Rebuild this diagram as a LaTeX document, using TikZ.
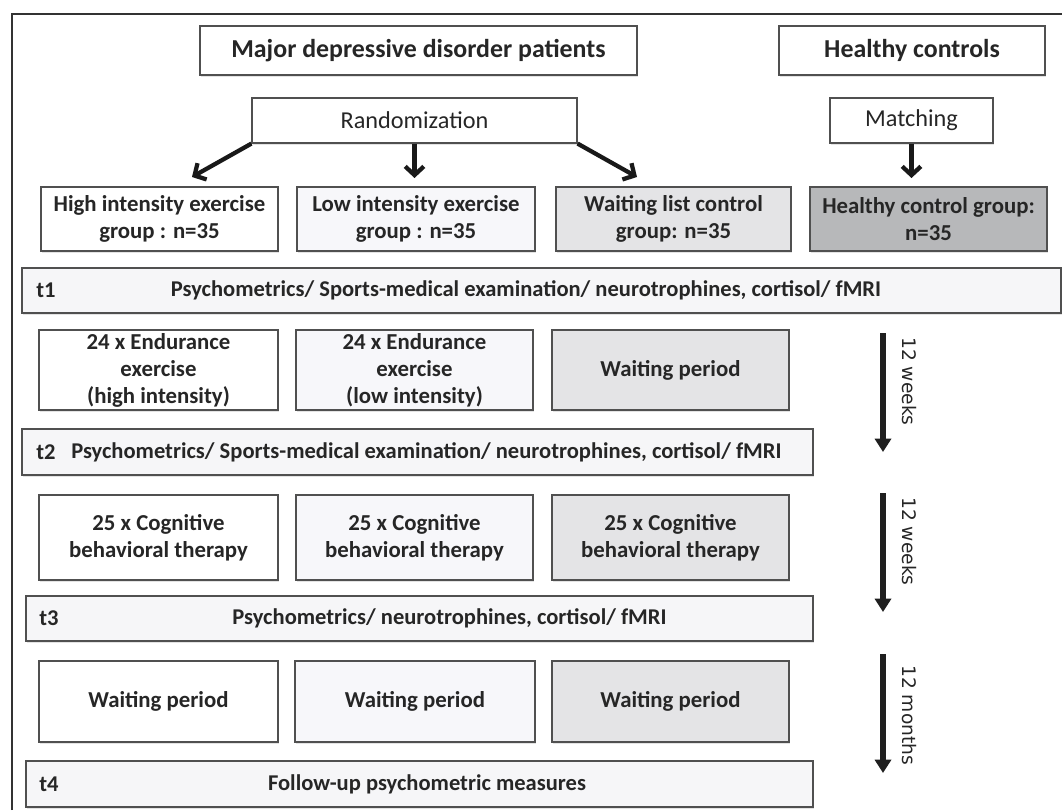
\documentclass[tikz,border=0pt]{standalone}
\usepackage{fontspec}
\setmainfont{Carlito}
\newfontfamily\labfont{DejaVu Sans}
\usetikzlibrary{arrows.meta,shadows}
\definecolor{bordc}{HTML}{505050}
\definecolor{txtc}{HTML}{262626}
\definecolor{fillB}{HTML}{F7F7FA}
\definecolor{fillC}{HTML}{E4E4E6}
\definecolor{fillD}{HTML}{B7B8BA}
\definecolor{barfill}{HTML}{F6F6F8}
\begin{document}
\begin{tikzpicture}[x=0.75pt,y=-0.75pt,
  bw/.style={minimum width=#1*0.75pt},
  bh/.style={minimum height=#1*0.75pt},
  box/.style={draw=bordc, line width=0.9pt, align=center, text=txtc, inner sep=0pt,
    drop shadow={shadow xshift=0.8pt, shadow yshift=-1.8pt, opacity=0.22}},
  titlefont/.style={font=\fontsize{19.4}{23}\selectfont\bfseries},
  regfont/.style={font=\fontsize{18.2}{22}\selectfont},
  boldfont/.style={font=\fontsize{17.1}{20.25}\selectfont\bfseries},
  bartxt/.style={font=\fontsize{16.9}{20.25}\selectfont\bfseries, text=txtc, inner sep=0pt},
  durlab/.style={font=\labfont\fontsize{14}{16}\selectfont, text=txtc, rotate=-90, inner sep=0pt},
  toparrow/.style={line width=3.2pt, color=black!90, -{Straight Barb[length=6.5pt,width=14pt]}},
  timearrow/.style={line width=5pt, color=black!88, -{Triangle[length=10pt,width=12pt]}},
  frame/.style={line width=0.9pt, color=black!80}
]
\useasboundingbox (0,0) rectangle (1062,810);
\fill[white] (0,0) rectangle (1062,810);
\draw[frame] (12,810) -- (12,14) -- (1062,14);

% top boxes
\node[box, fill=white, bw=437, bh=49, titlefont] (mdd) at (418.5,50.5) {Major depressive disorder patients};
\node[box, fill=white, bw=266, bh=49, titlefont] (hcon) at (912,50.5) {Healthy controls};
\node[box, fill=white, bw=325, bh=45, regfont] (rand) at (414.5,120.5) {Randomization};
\node[box, fill=white, bw=163, bh=45, regfont] (match) at (911.5,120.5) {Matching};

% group boxes
\node[box, fill=white, bw=237, bh=64, boldfont] (g1) at (159.5,219) {High intensity exercise\\group : n=35};
\node[box, fill=fillB, bw=238, bh=64, boldfont] (g2) at (416,219) {Low intensity exercise\\group : n=35};
\node[box, fill=fillC, bw=235, bh=64, boldfont] (g3) at (673.5,219) {Waiting list control\\group: n=35};
\node[box, fill=fillD, bw=237, bh=64, boldfont] (g4) at (928.5,219) {Healthy control group:\\n=35};

% arrows from randomization / matching
\coordinate (r1) at (192,177);
\coordinate (r2) at (414.5,178);
\coordinate (r3) at (637,177);
\coordinate (m1) at (911.5,178);
\draw[toparrow] (rand.south west) -- (r1);
\draw[toparrow] (rand.south) -- (r2);
\draw[toparrow] (rand.south east) -- (r3);
\draw[toparrow] (match.south) -- (m1);

% t1
\node[box, fill=barfill, bw=1039, bh=45] (t1bar) at (541.5,290.5) {};
\node[bartxt, anchor=west] (t1lab) at (36,290.5) {t1};
\node[bartxt] (t1txt) at (526,290.5) {Psychometrics/ Sports-medical examination/ neurotrophines, cortisol/ fMRI};

% row 2
\node[box, fill=white, bw=239, bh=80, boldfont] (e1) at (158.5,370) {24 x Endurance\\exercise\\(high intensity)};
\node[box, fill=fillB, bw=237, bh=80, boldfont] (e2) at (414.5,370) {24 x Endurance\\exercise\\(low intensity)};
\node[box, fill=fillC, bw=237, bh=80, boldfont] (e3) at (670.5,370) {Waiting period};

% t2
\node[box, fill=barfill, bw=791, bh=46] (t2bar) at (417.5,452) {};
\node[bartxt, anchor=west] (t2lab) at (36,452) {t2};
\node[bartxt, anchor=west] (t2txt) at (71,452) {Psychometrics/ Sports-medical examination/ neurotrophines, cortisol/ fMRI};

% row 3
\node[box, fill=white, bw=239, bh=85, boldfont] (c1) at (158.5,537.5) {25 x Cognitive\\behavioral therapy};
\node[box, fill=fillB, bw=237, bh=85, boldfont] (c2) at (414.5,537.5) {25 x Cognitive\\behavioral therapy};
\node[box, fill=fillC, bw=237, bh=85, boldfont] (c3) at (670.5,537.5) {25 x Cognitive\\behavioral therapy};

% t3
\node[box, fill=barfill, bw=787, bh=45] (t3bar) at (419.5,618.5) {};
\node[bartxt, anchor=west] (t3lab) at (39,618.5) {t3};
\node[bartxt] (t3txt) at (449.5,618.5) {Psychometrics/ neurotrophines, cortisol/ fMRI};

% row 4
\node[box, fill=white, bw=239, bh=81, boldfont] (w1) at (158.5,701.5) {Waiting period};
\node[box, fill=fillB, bw=240, bh=81, boldfont] (w2) at (415,701.5) {Waiting period};
\node[box, fill=fillC, bw=237, bh=81, boldfont] (w3) at (670.5,701.5) {Waiting period};

% t4
\node[box, fill=barfill, bw=787, bh=46] (t4bar) at (419.5,784) {};
\node[bartxt, anchor=west] (t4lab) at (39,784) {t4};
\node[bartxt] (t4txt) at (427,784) {Follow-up psychometric measures};

% time arrows
\coordinate (a1s) at (883,333); \coordinate (a1e) at (883,452);
\coordinate (a2s) at (883,493); \coordinate (a2e) at (883,612);
\coordinate (a3s) at (883,654); \coordinate (a3e) at (883,773);
\draw[timearrow] (a1s) -- (a1e);
\draw[timearrow] (a2s) -- (a2e);
\draw[timearrow] (a3s) -- (a3e);
\node[durlab, anchor=west] (d1) at (909,337) {12 weeks};
\node[durlab, anchor=west] (d2) at (909,497) {12 weeks};
\node[durlab, anchor=west] (d3) at (909,665) {12 months};
\end{tikzpicture}
\end{document}
